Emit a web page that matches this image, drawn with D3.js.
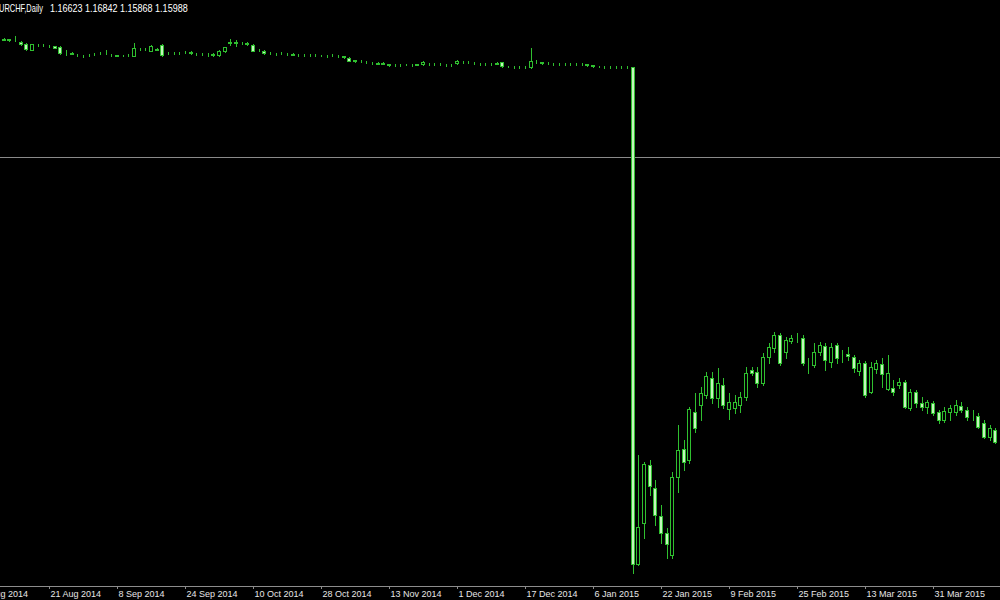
<!DOCTYPE html>
<html>
<head>
<meta charset="utf-8">
<script src="https://cdn.jsdelivr.net/npm/d3@7"></script>
<style>
  html, body { margin: 0; padding: 0; background: #000; }
  #chart { width: 1000px; height: 600px; overflow: hidden; }
</style>
</head>
<body>
<div id="chart"></div>
<script>
// EURCHF daily bars, 5 Aug 2014 .. 15 Apr 2015 (one entry per bar)
var open = [
  1.2139, 1.2137, 1.2137, 1.2136, 1.2137, 1.2135, 1.2135, 1.2126, 1.2115, 1.2088,
  1.2110, 1.2112, 1.2108, 1.2104, 1.2103, 1.2076, 1.2075, 1.2066, 1.2061, 1.2064,
  1.2068, 1.2072, 1.2074, 1.2066, 1.2063, 1.2062, 1.2063, 1.2062, 1.2093, 1.2092,
  1.2085, 1.2093, 1.2111, 1.2072, 1.2074, 1.2074, 1.2077, 1.2078, 1.2070, 1.2069,
  1.2066, 1.2070, 1.2065, 1.2081, 1.2120, 1.2122, 1.2119, 1.2117, 1.2111, 1.2088,
  1.2085, 1.2073, 1.2070, 1.2072, 1.2069, 1.2068, 1.2067, 1.2065, 1.2064, 1.2064,
  1.2062, 1.2061, 1.2063, 1.2062, 1.2058, 1.2053, 1.2040, 1.2038, 1.2035, 1.2028,
  1.2027, 1.2026, 1.2022, 1.2019, 1.2020, 1.2021, 1.2020, 1.2021, 1.2022, 1.2026,
  1.2025, 1.2023, 1.2020, 1.2019, 1.2027, 1.2034, 1.2033, 1.2028, 1.2025, 1.2024,
  1.2025, 1.2026, 1.2032, 1.2012, 1.2011, 1.2010, 1.2010, 1.2009, 1.2035, 1.2031,
  1.2028, 1.2026, 1.2024, 1.2025, 1.2026, 1.2025, 1.2025, 1.2022, 1.2017, 1.2012,
  1.2011, 1.2010, 1.2011, 1.2010, 1.2010, 1.2010, 0.9741, 0.9928, 1.0193, 1.0088,
  0.9960, 0.9882, 0.9782, 1.0138, 1.0266, 1.0216, 1.0435, 1.0467, 1.0512, 1.0590,
  1.0499, 1.0558, 1.0449, 1.0453, 1.0467, 1.0503, 1.0627, 1.0617, 1.0567, 1.0686,
  1.0727, 1.0786, 1.0709, 1.0759, 1.0773, 1.0773, 1.0659, 1.0649, 1.0709, 1.0736,
  1.0663, 1.0741, 1.0695, 1.0700, 1.0686, 1.0622, 1.0659, 1.0526, 1.0631, 1.0654,
  1.0540, 1.0544, 1.0558, 1.0572, 1.0453, 1.0526, 1.0476, 1.0458, 1.0476, 1.0435,
  1.0398, 1.0435, 1.0435, 1.0462, 1.0444, 1.0412, 1.0417, 1.0385, 1.0321, 1.0353
];
var high = [
  1.2143, 1.2142, 1.2141, 1.2140, 1.2141, 1.2140, 1.2150, 1.2130, 1.2118, 1.2116,
  1.2115, 1.2116, 1.2111, 1.2107, 1.2106, 1.2088, 1.2078, 1.2070, 1.2065, 1.2069,
  1.2073, 1.2077, 1.2088, 1.2070, 1.2067, 1.2066, 1.2068, 1.2120, 1.2097, 1.2096,
  1.2109, 1.2096, 1.2114, 1.2077, 1.2078, 1.2080, 1.2081, 1.2081, 1.2074, 1.2073,
  1.2072, 1.2072, 1.2086, 1.2103, 1.2137, 1.2133, 1.2124, 1.2126, 1.2115, 1.2092,
  1.2088, 1.2077, 1.2074, 1.2077, 1.2074, 1.2072, 1.2071, 1.2069, 1.2069, 1.2068,
  1.2066, 1.2066, 1.2068, 1.2066, 1.2062, 1.2056, 1.2044, 1.2042, 1.2039, 1.2032,
  1.2031, 1.2031, 1.2025, 1.2022, 1.2025, 1.2025, 1.2024, 1.2026, 1.2036, 1.2030,
  1.2028, 1.2027, 1.2024, 1.2023, 1.2040, 1.2038, 1.2039, 1.2032, 1.2029, 1.2028,
  1.2029, 1.2031, 1.2035, 1.2016, 1.2015, 1.2014, 1.2013, 1.2095, 1.2040, 1.2035,
  1.2032, 1.2030, 1.2028, 1.2029, 1.2030, 1.2029, 1.2028, 1.2025, 1.2021, 1.2016,
  1.2014, 1.2014, 1.2014, 1.2013, 1.2013, 1.2012, 1.0238, 1.0208, 1.0216, 1.0124,
  1.0010, 0.9905, 1.0161, 1.0376, 1.0307, 1.0458, 1.0522, 1.0549, 1.0617, 1.0617,
  1.0636, 1.0590, 1.0522, 1.0512, 1.0526, 1.0640, 1.0640, 1.0640, 1.0704, 1.0750,
  1.0800, 1.0796, 1.0777, 1.0786, 1.0796, 1.0786, 1.0681, 1.0750, 1.0754, 1.0750,
  1.0750, 1.0750, 1.0718, 1.0732, 1.0695, 1.0672, 1.0668, 1.0663, 1.0672, 1.0681,
  1.0695, 1.0581, 1.0590, 1.0581, 1.0540, 1.0535, 1.0503, 1.0490, 1.0485, 1.0444,
  1.0458, 1.0467, 1.0490, 1.0480, 1.0458, 1.0444, 1.0430, 1.0398, 1.0376, 1.0362
];
var low = [
  1.2134, 1.2133, 1.2132, 1.2131, 1.2132, 1.2131, 1.2129, 1.2112, 1.2088, 1.2086,
  1.2106, 1.2107, 1.2102, 1.2097, 1.2070, 1.2065, 1.2068, 1.2061, 1.2056, 1.2060,
  1.2065, 1.2068, 1.2070, 1.2060, 1.2058, 1.2058, 1.2059, 1.2059, 1.2088, 1.2087,
  1.2082, 1.2086, 1.2062, 1.2069, 1.2069, 1.2071, 1.2073, 1.2071, 1.2065, 1.2065,
  1.2058, 1.2058, 1.2062, 1.2078, 1.2111, 1.2106, 1.2114, 1.2110, 1.2082, 1.2083,
  1.2070, 1.2068, 1.2065, 1.2068, 1.2065, 1.2063, 1.2062, 1.2061, 1.2060, 1.2059,
  1.2058, 1.2057, 1.2059, 1.2057, 1.2053, 1.2036, 1.2035, 1.2033, 1.2030, 1.2023,
  1.2022, 1.2022, 1.2016, 1.2014, 1.2016, 1.2017, 1.2016, 1.2018, 1.2019, 1.2021,
  1.2020, 1.2019, 1.2015, 1.2015, 1.2024, 1.2029, 1.2030, 1.2023, 1.2020, 1.2020,
  1.2020, 1.2022, 1.2012, 1.2008, 1.2007, 1.2006, 1.2005, 1.2006, 1.2030, 1.2026,
  1.2023, 1.2021, 1.2020, 1.2021, 1.2021, 1.2021, 1.2020, 1.2016, 1.2012, 1.2008,
  1.2007, 1.2007, 1.2007, 1.2007, 1.2007, 0.9701, 0.9736, 0.9860, 1.0056, 0.9919,
  0.9837, 0.9768, 0.9768, 1.0070, 1.0170, 1.0202, 1.0343, 1.0398, 1.0499, 1.0476,
  1.0458, 1.0453, 1.0403, 1.0430, 1.0435, 1.0490, 1.0604, 1.0549, 1.0558, 1.0659,
  1.0709, 1.0649, 1.0681, 1.0750, 1.0754, 1.0649, 1.0613, 1.0640, 1.0695, 1.0627,
  1.0640, 1.0659, 1.0663, 1.0672, 1.0617, 1.0604, 1.0503, 1.0522, 1.0613, 1.0549,
  1.0535, 1.0512, 1.0544, 1.0453, 1.0444, 1.0458, 1.0444, 1.0430, 1.0421, 1.0385,
  1.0389, 1.0398, 1.0421, 1.0435, 1.0398, 1.0398, 1.0362, 1.0316, 1.0307, 1.0293
];
var close = [
  1.2137, 1.2139, 1.2136, 1.2137, 1.2135, 1.2136, 1.2132, 1.2115, 1.2091, 1.2114,
  1.2112, 1.2110, 1.2106, 1.2099, 1.2073, 1.2074, 1.2071, 1.2065, 1.2060, 1.2066,
  1.2070, 1.2073, 1.2076, 1.2064, 1.2062, 1.2061, 1.2065, 1.2097, 1.2092, 1.2093,
  1.2106, 1.2089, 1.2065, 1.2074, 1.2073, 1.2076, 1.2078, 1.2073, 1.2069, 1.2070,
  1.2065, 1.2066, 1.2083, 1.2100, 1.2124, 1.2121, 1.2118, 1.2119, 1.2085, 1.2087,
  1.2073, 1.2072, 1.2069, 1.2073, 1.2070, 1.2067, 1.2066, 1.2064, 1.2065, 1.2063,
  1.2061, 1.2062, 1.2064, 1.2061, 1.2056, 1.2039, 1.2038, 1.2037, 1.2034, 1.2027,
  1.2026, 1.2027, 1.2020, 1.2018, 1.2021, 1.2020, 1.2021, 1.2023, 1.2033, 1.2025,
  1.2024, 1.2022, 1.2019, 1.2020, 1.2037, 1.2033, 1.2035, 1.2027, 1.2024, 1.2025,
  1.2024, 1.2027, 1.2015, 1.2011, 1.2010, 1.2011, 1.2009, 1.2039, 1.2034, 1.2030,
  1.2027, 1.2025, 1.2025, 1.2026, 1.2025, 1.2026, 1.2024, 1.2021, 1.2016, 1.2011,
  1.2010, 1.2011, 1.2010, 1.2010, 1.2011, 0.9741, 0.9910, 1.0197, 1.0097, 0.9965,
  0.9882, 0.9832, 1.0138, 1.0261, 1.0206, 1.0449, 1.0362, 1.0522, 1.0599, 1.0499,
  1.0567, 1.0467, 1.0480, 1.0480, 1.0503, 1.0613, 1.0613, 1.0567, 1.0686, 1.0732,
  1.0786, 1.0659, 1.0764, 1.0773, 1.0771, 1.0659, 1.0657, 1.0709, 1.0741, 1.0672,
  1.0732, 1.0681, 1.0693, 1.0691, 1.0636, 1.0659, 1.0512, 1.0640, 1.0659, 1.0608,
  1.0613, 1.0526, 1.0572, 1.0458, 1.0526, 1.0476, 1.0458, 1.0480, 1.0430, 1.0398,
  1.0440, 1.0453, 1.0467, 1.0444, 1.0412, 1.0410, 1.0366, 1.0321, 1.0362, 1.0298
];

// time axis labels, one every 12 bars starting at bar 0
var tickLabels = ["5 Aug 2014", "21 Aug 2014", "8 Sep 2014", "24 Sep 2014", "10 Oct 2014",
  "28 Oct 2014", "13 Nov 2014", "1 Dec 2014", "17 Dec 2014", "6 Jan 2015",
  "22 Jan 2015", "9 Feb 2015", "25 Feb 2015", "13 Mar 2015", "31 Mar 2015"];
var tickStep = 12;

var symbol = "EURCHF,Daily";
var lastOHLC = [1.16623, 1.16842, 1.15868, 1.15988];

var W = 1000, H = 600, axisY = 586;
var green = "#2fbf2f", bearFill = "#c2f5ba";

var svg = d3.select("#chart")
  .append("svg")
  .attr("width", W)
  .attr("height", H)
  .style("background", "#000")
  .style("display", "block");

var bars = open.map(function (o, i) {
  return { i: i, o: o, h: high[i], l: low[i], c: close[i] };
});

// bar index -> x (about 5.67 px per bar, first bars sit left of the frame)
var x = d3.scaleLinear()
  .domain([0, 180])
  .range([-19, 1001]);

var y = d3.scaleLinear()
  .domain([1.2316, 0.9640])
  .range([0, axisY]);

// bid line at last close
svg.append("line")
  .attr("x1", 0).attr("x2", W)
  .attr("y1", Math.round(y(lastOHLC[3])) + 0.5)
  .attr("y2", Math.round(y(lastOHLC[3])) + 0.5)
  .style("stroke", "#8a8a8a")
  .style("stroke-width", 1)
  .style("shape-rendering", "crispEdges");

var g = svg.append("g").style("shape-rendering", "crispEdges");

var candle = g.selectAll("g.bar")
  .data(bars)
  .enter()
  .append("g")
  .attr("class", "bar");

// wicks
candle.append("line")
  .attr("x1", function (d) { return Math.round(x(d.i)) + 0.5 })
  .attr("x2", function (d) { return Math.round(x(d.i)) + 0.5 })
  .attr("y1", function (d) { return Math.round(y(d.h)) })
  .attr("y2", function (d) { return Math.round(y(d.l)) + 1 })
  .style("stroke", green)
  .style("stroke-width", 1);

// bodies: bull = black with green outline, bear = pale green
candle.append("rect")
  .attr("x", function (d) { return Math.round(x(d.i)) - 1.5 })
  .attr("y", function (d) { return Math.round(y(Math.max(d.o, d.c))) + 0.5 })
  .attr("width", 3)
  .attr("height", function (d) {
    return Math.max(Math.round(y(Math.min(d.o, d.c))) - Math.round(y(Math.max(d.o, d.c))), 0)
  })
  .style("fill", function (d) { return d.c >= d.o ? "#000" : bearFill })
  .style("stroke", green)
  .style("stroke-width", 1);

// time axis
var axis = svg.append("g")
  .attr("transform", "translate(0," + axisY + ")")
  .call(d3.axisBottom(x)
    .tickValues(tickLabels.map(function (_, i) { return i * tickStep }))
    .tickFormat(function (_, i) { return tickLabels[i] })
    .tickSize(3)
    .tickSizeOuter(0)
    .tickPadding(2));

axis.select(".domain")
  .attr("d", "M0,0.5H" + W)
  .style("stroke", "#8c8c8c")
  .style("shape-rendering", "crispEdges");
axis.selectAll(".tick line")
  .style("stroke", "#8c8c8c")
  .style("shape-rendering", "crispEdges");
axis.selectAll(".tick text")
  .style("fill", "#e6e6e6")
  .style("font-family", "'Liberation Sans', Arial, sans-serif")
  .style("font-size", "9px")
  .style("text-anchor", "start")
  .attr("dx", 1);

// header: symbol, period and last bar's OHLC, squeezed to the terminal's narrow font
function headerText(str, left, width) {
  var t = svg.append("text")
    .attr("x", 0)
    .attr("y", 0)
    .style("fill", "#fff")
    .style("font-family", "'Liberation Sans', Arial, sans-serif")
    .style("font-size", "10.5px")
    .text(str);
  var natural = t.node().getComputedTextLength();
  t.attr("transform", "translate(" + left + ",12) scale(" + (width / natural) + ",1)");
}
headerText(symbol, -6, 49);
headerText(lastOHLC.map(function (v) { return v.toFixed(5) }).join(" "), 50, 138);
</script>
</body>
</html>
